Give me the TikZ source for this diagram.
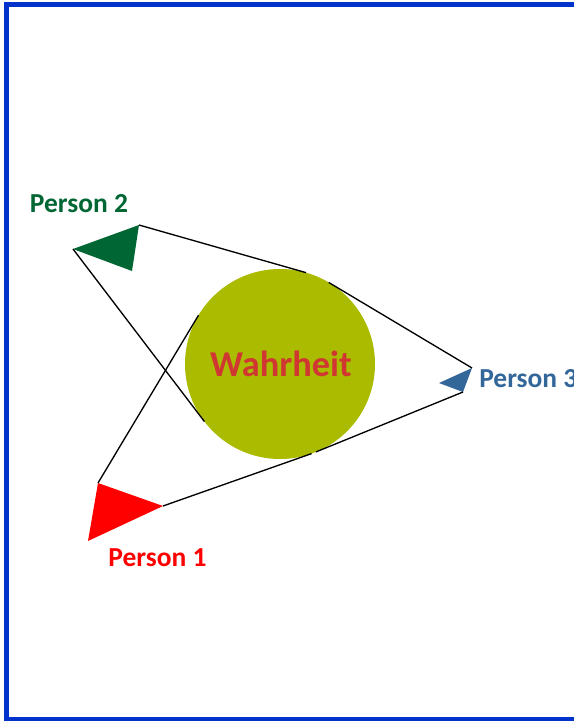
\documentclass[tikz,border=0pt]{standalone}
\usepackage{fontspec}
\setmainfont{Carlito}
\usetikzlibrary{calc}

\definecolor{framecol}{RGB}{0,51,204}
\definecolor{truthcol}{RGB}{170,187,0}
\definecolor{truthtext}{RGB}{208,55,50}
\definecolor{onecol}{RGB}{255,0,0}
\definecolor{twocol}{RGB}{0,102,51}
\definecolor{threecol}{RGB}{51,102,153}

\tikzset{
  personlabel/.style={font=\bfseries\fontsize{20.6}{24}\selectfont, inner sep=0pt},
  sight/.style={line width=1pt}
}

\begin{document}
\begin{tikzpicture}[x=0.75pt, y=-0.75pt]
\useasboundingbox (0,0) rectangle (574,721);
\clip (0,0) rectangle (574,721);
\draw[framecol, line width=3.5pt] (6.5,4.5) rectangle (620,719.5);

% the truth in the middle
\node[circle, fill=truthcol, minimum size=142.5pt, inner sep=0pt, outer sep=0pt] (truth) at (280,364) {};
\node[font=\bfseries\fontsize{27.3}{32}\selectfont, text=truthtext, inner sep=0pt, anchor=base] (truthlabel) at (281,376) {Wahrheit};

% the three persons
\fill[onecol] (98,483) coordinate (p1a) -- (163,506) coordinate (p1b) -- (88,541) coordinate (p1c) -- cycle;
\fill[twocol] (73,249) coordinate (p2a) -- (139,225) coordinate (p2b) -- (132,271) coordinate (p2c) -- cycle;
\fill[threecol] (439,383) coordinate (p3a) -- (472,368) coordinate (p3b) -- (463,392) coordinate (p3c) -- cycle;

\node[personlabel, text=onecol, anchor=base] (one) at (157.5,566.5) {Person 1};
\node[personlabel, text=twocol, anchor=base] (two) at (79,212) {Person 2};
\node[personlabel, text=threecol, anchor=base west] (three) at (479,387) {Person 3};

% lines of sight, tangent to the circle
\draw[sight] (p1a) -- (tangent cs:node=truth,point={(p1a)},solution=2);
\draw[sight] (p1b) -- (tangent cs:node=truth,point={(p1b)},solution=1);
\draw[sight] (p2a) -- (tangent cs:node=truth,point={(p2a)},solution=1);
\draw[sight] (p2b) -- (tangent cs:node=truth,point={(p2b)},solution=2);
\draw[sight] (p3b) -- (tangent cs:node=truth,point={(p3b)},solution=1);
\draw[sight] (p3c) -- (tangent cs:node=truth,point={(p3c)},solution=2);
\end{tikzpicture}
\end{document}
